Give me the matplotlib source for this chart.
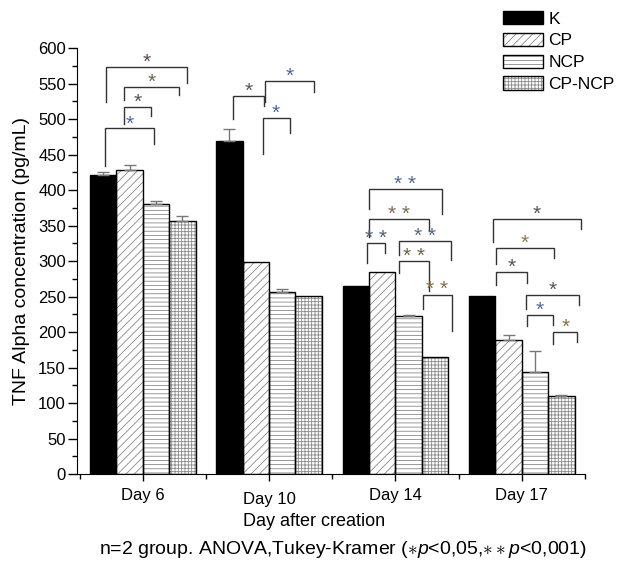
import numpy as np
import matplotlib
matplotlib.use("Agg")
import matplotlib.pyplot as plt
from matplotlib.patches import Patch
from matplotlib.legend_handler import HandlerTuple
from matplotlib.ticker import FixedLocator, MultipleLocator
from matplotlib.transforms import ScaledTranslation

plt.rcParams["font.family"] = ["Liberation Sans", "DejaVu Sans"]
plt.rcParams["mathtext.fontset"] = "custom"
plt.rcParams["mathtext.rm"] = "Liberation Sans"
plt.rcParams["mathtext.it"] = "Liberation Sans:italic"
plt.rcParams["hatch.linewidth"] = 0.6

days = ["Day 6", "Day 10", "Day 14", "Day 17"]
groups = ["K", "CP", "NCP", "CP-NCP"]

k_vals = [421, 470, 265, 251]
cp_vals = [428, 299, 285, 189]
ncp_vals = [380, 256, 222, 144]
cpncp_vals = [357, 251, 165, 110]

k_err = [4, 16, 0, 0]
cp_err = [7, 0, 0, 7]
ncp_err = [5, 5, 2, 30]
cpncp_err = [6, 0, 0, 1]

# brackets: x left, x right, y line, y left leg end, y right leg end, stars, star colour
brackets = [
    (-0.287, 0.348, 574, 524, 551, "*", "#5a4444"),
    (-0.150, 0.285, 546, 527, 534, "*", "#66664a"),
    (-0.150, 0.063, 517, 493, 504, "*", "#555555"),
    (-0.295, 0.087, 487, 434, 465, "*", "#4a6aa0"),
    (0.718, 0.958, 533, 500, 519, "*", "#555555"),
    (0.966, 1.354, 554, 524, 538, "*", "#4a6aa0"),
    (0.948, 1.164, 502, 451, 481, "*", "#4a6aa0"),
    (1.792, 2.367, 402, 374, 367, "* *", "#4a6aa0"),
    (1.792, 2.267, 359, 334, 343, "* *", "#7a6e50"),
    (1.771, 1.916, 325, 298, 311, "* *", "#50607a"),
    (2.025, 2.441, 328, 308, 301, "* *", "#5a6a8a"),
    (2.029, 2.262, 300, 283, 258, "* *", "#6a6450"),
    (2.215, 2.444, 253, 232, 201, "* *", "#8a7040"),
    (2.774, 3.466, 360, 327, 345, "*", "#555555"),
    (2.793, 3.257, 319, 296, 305, "*", "#8a7a50"),
    (2.795, 3.043, 285, 266, 269, "*", "#555555"),
    (3.032, 3.454, 252, 233, 238, "*", "#555555"),
    (3.043, 3.244, 224, 208, 210, "*", "#4a6aa0"),
    (3.249, 3.439, 200, 183, 186, "*", "#8a7040"),
]

series = [k_vals, cp_vals, ncp_vals, cpncp_vals]
errors = [k_err, cp_err, ncp_err, cpncp_err]
faces = ["black", "white", "white", "white"]
hatches = [None, "////", "----", "+++++"]
hatch_col = "#8a8a8a"

fig = plt.figure(figsize=(6.23, 5.66), dpi=100)
ax = fig.add_axes([0.1236, 0.1625, 0.8154, 0.7522])

x = np.arange(len(days))
w = 0.209
handles = []
for i, (vals, err) in enumerate(zip(series, errors)):
    pos = x + (i - 1.5) * w
    ax.bar(pos, vals, w, color=faces[i], edgecolor=hatch_col, hatch=hatches[i],
           linewidth=0, zorder=2)
    ax.bar(pos, vals, w, fill=False, edgecolor="black", linewidth=1.0, zorder=3)
    e = np.array(err, dtype=float)
    m = e > 0
    ax.errorbar(pos[m], np.array(vals)[m], yerr=[np.zeros(m.sum()), e[m]], fmt="none",
                ecolor="#777777", elinewidth=1, capsize=4, capthick=1, zorder=4)
    h1 = Patch(facecolor=faces[i], edgecolor=hatch_col, hatch=hatches[i], linewidth=0)
    h2 = Patch(fill=False, edgecolor="black", linewidth=1.0)
    handles.append((h1, h2))

for x1, x2, y, yl, yr, lab, col in brackets:
    ax.plot([x1, x1, x2, x2], [yl, y, y, yr], color="#333333", lw=1, zorder=5,
            solid_joinstyle="miter")
    ax.text((x1 + x2) / 2, y - 7, lab, ha="center", va="bottom", fontsize=15,
            color=col, zorder=6)

ax.set_xlim(-0.52, 3.5)
ax.set_ylim(0, 600)
ax.spines["top"].set_visible(False)
ax.spines["right"].set_visible(False)
ax.xaxis.set_major_locator(FixedLocator(x))
ax.xaxis.set_minor_locator(FixedLocator([-0.5, 0.5, 1.5, 2.5, 3.5]))
ax.set_xticklabels(days, fontsize=12)
ax.yaxis.set_major_locator(MultipleLocator(50))
ax.yaxis.set_minor_locator(MultipleLocator(25))
ax.tick_params(axis="y", which="major", length=6.5, width=1, pad=1.5, labelsize=12)
ax.tick_params(axis="y", which="minor", length=3.4, width=1)
ax.tick_params(axis="x", which="major", length=5, width=1, pad=5)
ax.tick_params(axis="x", which="minor", length=3.6, width=1)

lab10 = ax.get_xticklabels()[1]
lab10.set_transform(lab10.get_transform() + ScaledTranslation(0, -3 / 72, fig.dpi_scale_trans))

ax.set_ylabel("TNF Alpha concentration (pg/mL)", fontsize=14, labelpad=6)
fig.text(314 / 623, 1 - 522 / 566, "Day after creation", ha="center", va="center",
         fontsize=13)
fig.text(343 / 623, 1 - 550 / 566,
         r"n=2 group. ANOVA,Tukey-Kramer ($\ast\mathit{p}$<0,05,$\ast\ast\mathit{p}$<0,001)",
         ha="center", va="center", fontsize=14)

fig.legend(handles, groups, handler_map={tuple: HandlerTuple(ndivide=1)},
           loc="upper left", bbox_to_anchor=(503 / 623, 1 - 11 / 566),
           frameon=False, fontsize=12.5, handlelength=2.3, handleheight=0.8,
           handletextpad=0.3, labelspacing=0.35, borderpad=0, borderaxespad=0)

fig.savefig("out.png", dpi=100)
